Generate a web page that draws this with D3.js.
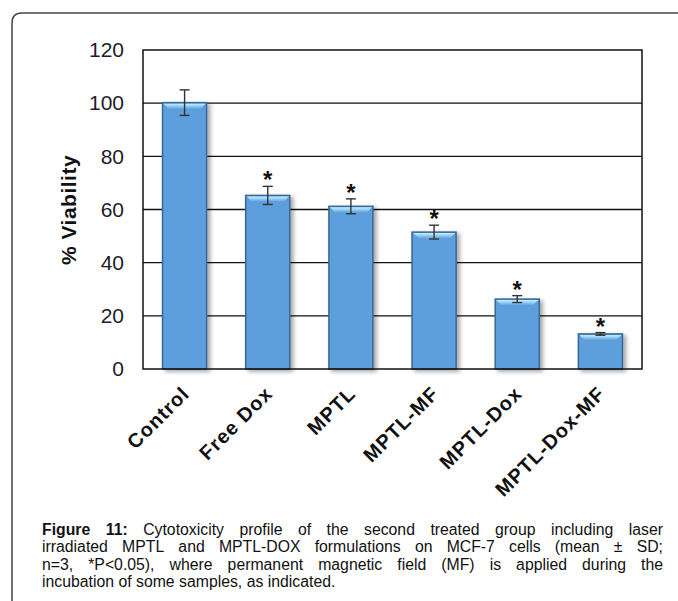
<!DOCTYPE html>
<html>
<head>
<meta charset="utf-8">
<script src="https://cdn.jsdelivr.net/npm/d3@7"></script>
<style>
  body { margin: 0; background: #fff; }
  svg { display: block; font-family: "Liberation Sans", Arial, sans-serif; }
</style>
</head>
<body>
<div id="chart"></div>
<script>
// data
const categories = ["Control", "Free Dox", "MPTL", "MPTL-MF", "MPTL-Dox", "MPTL-Dox-MF"];
const viability = [100.2, 65.3, 61.2, 51.5, 26.3, 13.2];
const sd = [4.8, 3.4, 2.8, 2.6, 1.3, 0.5];
const significant = [false, true, true, true, true, true];
const yTicks = [0, 20, 40, 60, 80, 100, 120];
const captionLines = [
  ["Figure 11:", "Cytotoxicity profile of the second treated group including laser"],
  ["", "irradiated MPTL and MPTL-DOX formulations on MCF-7 cells (mean \u00b1 SD;"],
  ["", "n=3, *P<0.05), where permanent magnetic field (MF) is applied during the"],
  ["", "incubation of some samples, as indicated."]
];

const W = 678, H = 601;
const margin = { top: 50, right: 36, bottom: 232, left: 143 };
const innerW = W - margin.left - margin.right;
const innerH = H - margin.top - margin.bottom;

const svg = d3.select("#chart").append("svg")
  .attr("width", W).attr("height", H)
  .attr("viewBox", `0 0 ${W} ${H}`);

const defs = svg.append("defs");
const shadow = defs.append("filter").attr("id", "barShadow")
  .attr("x", "-20%").attr("y", "-20%").attr("width", "150%").attr("height", "140%");
shadow.append("feDropShadow")
  .attr("dx", 3).attr("dy", 2).attr("stdDeviation", 2)
  .attr("flood-color", "#000").attr("flood-opacity", 0.35);

const topGrad = defs.append("linearGradient").attr("id", "barTop")
  .attr("x1", 0).attr("x2", 0).attr("y1", 0).attr("y2", 1);
topGrad.append("stop").attr("offset", "0%").attr("stop-color", "#c8f0ff");
topGrad.append("stop").attr("offset", "100%").attr("stop-color", "#62a6e0");

// outer figure frame (only top and left visible)
svg.append("path")
  .attr("d", `M12,${H} L12,23 Q12,13 22,13 L${W},13`)
  .attr("fill", "none")
  .attr("stroke", "#444")
  .attr("stroke-width", 1.5);

const g = svg.append("g").attr("transform", `translate(${margin.left},${margin.top})`);

const x = d3.scaleBand().domain(categories).range([0, innerW]).paddingInner(0.47).paddingOuter(0.235);
const y = d3.scaleLinear().domain([0, 120]).range([innerH, 0]);

// gridlines
g.append("g")
  .selectAll("line")
  .data(yTicks.filter(d => d > 0 && d < 120))
  .join("line")
  .attr("x1", 0).attr("x2", innerW)
  .attr("y1", d => y(d)).attr("y2", d => y(d))
  .attr("stroke", "#111").attr("stroke-width", 1.3);

// y axis labels
const yAxis = g.append("g")
  .call(d3.axisLeft(y).tickValues(yTicks).tickSize(0).tickPadding(19));
yAxis.select(".domain").remove();
yAxis.selectAll("text")
  .attr("font-size", 21)
  .attr("font-family", "Liberation Sans, Arial, sans-serif")
  .attr("fill", "#1d1d2b");

// bars
const bars = g.append("g").selectAll("g").data(categories).join("g");
bars.append("rect")
  .attr("x", d => x(d))
  .attr("y", (d, i) => y(viability[i]))
  .attr("width", x.bandwidth())
  .attr("height", (d, i) => innerH - y(viability[i]))
  .attr("fill", "#5d9fdc")
  .attr("stroke", "#3b6892")
  .attr("stroke-width", 1.5)
  .attr("filter", "url(#barShadow)");
// bevel highlight at the top of each bar
bars.append("path")
  .attr("d", (d, i) => {
    const x0 = x(d) + 1, x1 = x(d) + x.bandwidth() - 1, y0 = y(viability[i]) + 1;
    return `M${x0},${y0} L${x1},${y0} L${x1 - 5},${y0 + 5} L${x0 + 5},${y0 + 5} Z`;
  })
  .attr("fill", "url(#barTop)");

// plot frame
g.append("rect")
  .attr("width", innerW).attr("height", innerH)
  .attr("fill", "none").attr("stroke", "#111").attr("stroke-width", 1.5);

// error bars
const err = g.append("g").attr("stroke", "#333").attr("stroke-width", 1.4);
categories.forEach((c, i) => {
  const cx = x(c) + x.bandwidth() / 2;
  const hi = y(viability[i] + sd[i]), lo = y(viability[i] - sd[i]);
  err.append("line").attr("x1", cx).attr("x2", cx).attr("y1", hi).attr("y2", lo);
  err.append("line").attr("x1", cx - 5).attr("x2", cx + 5).attr("y1", hi).attr("y2", hi);
  err.append("line").attr("x1", cx - 5).attr("x2", cx + 5).attr("y1", lo).attr("y2", lo);
});

// significance stars
g.append("g").selectAll("text")
  .data(categories.filter((c, i) => significant[i]))
  .join("text")
  .attr("x", d => x(d) + x.bandwidth() / 2)
  .attr("y", d => {
    const i = categories.indexOf(d);
    return y(viability[i] + sd[i]) + 2;
  })
  .attr("text-anchor", "middle")
  .attr("font-size", 24)
  .attr("font-weight", "bold")
  .attr("fill", "#111")
  .text("*");

// x category labels
g.append("g").selectAll("text")
  .data(categories)
  .join("text")
  .attr("transform", d => `translate(${x(d) + x.bandwidth() / 2 + 6},${innerH + 26}) rotate(-45)`)
  .attr("text-anchor", "end")
  .attr("font-size", 20)
  .attr("font-weight", "bold")
  .attr("letter-spacing", 1)
  .attr("fill", "#111")
  .text(d => d);

// y axis title
svg.append("text")
  .attr("transform", `translate(76,210) rotate(-90)`)
  .attr("text-anchor", "middle")
  .attr("font-size", 21)
  .attr("font-weight", "bold")
  .attr("letter-spacing", 0.5)
  .attr("fill", "#111")
  .text("% Viability");

// caption, justified across the first three lines
const capLeft = 42, capRight = 663, capTop = 535, lineGap = 17.3;
const cap = svg.append("g").attr("font-size", 15.8).attr("fill", "#111");
captionLines.forEach(([boldPart, rest], li) => {
  const words = [];
  if (boldPart) boldPart.split(" ").forEach(w => words.push({ w, bold: true }));
  rest.split(" ").forEach(w => words.push({ w, bold: false }));
  const nodes = words.map(o => cap.append("text")
    .attr("y", capTop + li * lineGap)
    .attr("font-weight", o.bold ? "bold" : "normal")
    .text(o.w));
  const widths = nodes.map(n => n.node().getComputedTextLength());
  const total = d3.sum(widths);
  const justify = li < captionLines.length - 1;
  const gap = justify ? (capRight - capLeft - total) / (words.length - 1) : 4.4;
  let cx = capLeft;
  nodes.forEach((n, k) => {
    n.attr("x", cx);
    cx += widths[k] + gap;
  });
});
</script>
</body>
</html>
